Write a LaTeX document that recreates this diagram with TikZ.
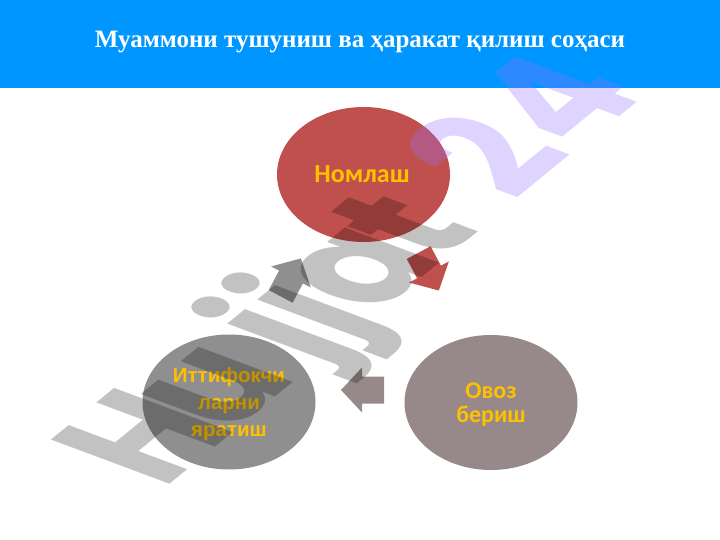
\documentclass[tikz,border=0pt]{standalone}
\usepackage{fontspec}
\setmainfont{Liberation Serif}
\newfontfamily\calibf{Carlito}
\newfontfamily\arialf{Liberation Sans}
\newfontfamily\wmfont{Poppins}
\usetikzlibrary{shapes.geometric}
\definecolor{hdrblue}{RGB}{0,150,255}
\definecolor{nodered}{RGB}{192,80,77}
\definecolor{nodebrown}{RGB}{151,137,137}
\definecolor{nodegray}{RGB}{143,143,143}
\definecolor{txtgold}{RGB}{255,192,0}
\definecolor{wmpurple}{RGB}{150,110,255}
\tikzset{
  cyc/.style={ellipse, minimum width=173pt, minimum height=135pt, inner sep=0pt},
  cyctext/.style={text=txtgold, align=center, inner sep=0pt},
  blockarrow/.pic={\fill (-22,-13.5) -- (0,-13.5) -- (0,-22.5) -- (21,0) -- (0,22.5) -- (0,13.5) -- (-22,13.5) -- cycle;},
  wmgray/.style={anchor=base west, inner sep=0pt, font=\wmfont\bfseries\fontsize{10}{12}\selectfont, text=black, text opacity=0.24},
  wmpur/.style={anchor=base west, inner sep=0pt, font=\wmfont\bfseries\fontsize{10}{12}\selectfont, text=wmpurple, text opacity=0.3}
}
\begin{document}
\begin{tikzpicture}[x=1pt,y=-1pt]
\useasboundingbox (0,0) rectangle (720,540);
\fill[white] (0,0) rectangle (720,540);
\fill[hdrblue] (0,0) rectangle (720,88);
\node[font=\bfseries\fontsize{25}{30}\selectfont, text=white, anchor=base, inner sep=0pt] (title) at (360,47.5) {Муаммони тушуниш ва ҳаракат қилиш соҳаси};

\node[cyc, fill=nodered] (n1) at (363.5,174.5) {};
\node[cyc, fill=nodebrown] (n2) at (491,402.5) {};
\node[cyc, fill=nodegray] (n3) at (229,402) {};

\node[cyctext, font=\calibf\bfseries\fontsize{26}{26}\selectfont, anchor=base] (t1) at (362,183) {Номлаш};
\node[cyctext, font=\calibf\bfseries\fontsize{24}{24}\selectfont] (t2) at (491,404.5) {Овоз\\бериш};
\node[cyctext, font=\arialf\bfseries\fontsize{20.5}{27}\selectfont] (t3) at (229,404) {Иттифокчи\\ларни\\яратиш};

\pic[fill=nodered, rotate=-62] (a1) at (429,272) {blockarrow};
\pic[fill=nodebrown, rotate=180] (a2) at (362,390) {blockarrow};
\pic[fill=nodegray, rotate=62] (a3) at (291,277) {blockarrow};

\begin{scope}[cm={10.4,8.5,-16.9,6.3,(161,491)}, transform shape]
  \node[wmgray] (wH) at (0,0) {H};
  \node[wmgray] (wu) at (6.4,0) {u};
  \node[wmgray] (wj1) at (14.7,0) {j};
  \node[wmgray] (wj2) at (17.5,0) {j};
  \node[wmgray] (wa) at (20.4,0) {a};
  \node[wmgray] (wt) at (26.6,0) {t};
  \node[wmpur] (w2) at (33.9,0) {2};
  \node[wmpur] (w4) at (40.0,0) {4};
\end{scope}
\end{tikzpicture}
\end{document}
